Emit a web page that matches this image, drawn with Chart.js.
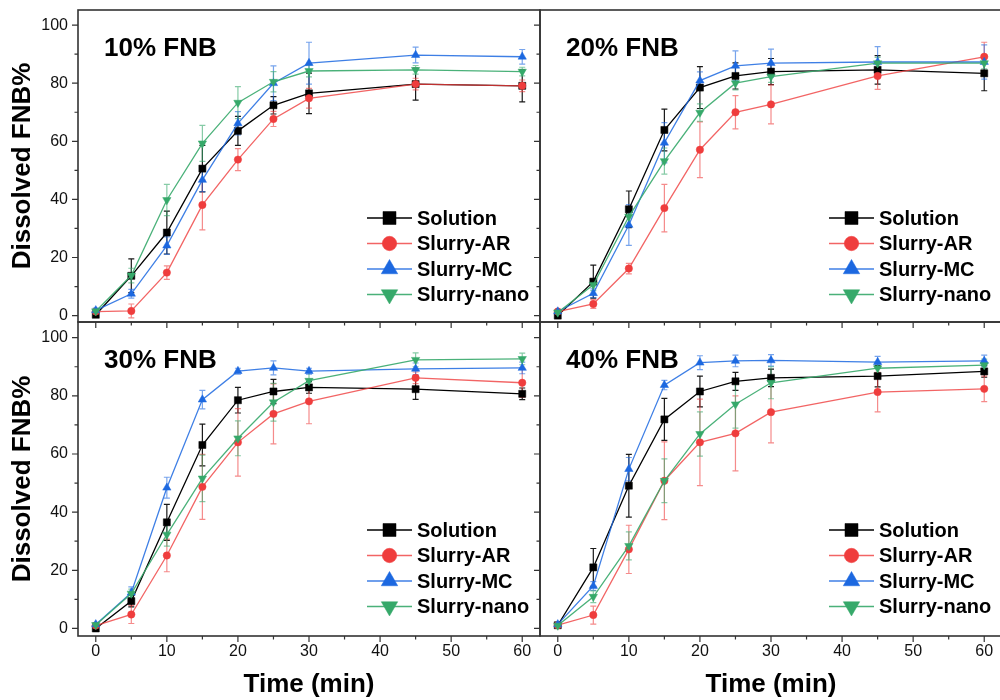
<!DOCTYPE html>
<html>
<head>
<meta charset="utf-8">
<title>FNB dissolution profiles</title>
<script src="https://cdn.jsdelivr.net/npm/chart.js@4.4.1/dist/chart.umd.min.js"></script>
<style>
  html, body { margin: 0; padding: 0; background: #fff; overflow: hidden; }
  #wrap { position: relative; width: 1000px; height: 700px; overflow: hidden; }
  #wrap canvas { position: absolute; left: 0; top: 0; }
</style>
</head>
<body>
<div id="wrap">
  <canvas id="c10" width="1004" height="700"></canvas>
  <canvas id="c20" width="1004" height="700"></canvas>
  <canvas id="c30" width="1004" height="700"></canvas>
  <canvas id="c40" width="1004" height="700"></canvas>
</div>
<script>
// Sampling times (min) and axis ticks
const times = [0, 5, 10, 15, 20, 25, 30, 45, 60];
const xTicks = [0, 10, 20, 30, 40, 50, 60];
const xMinor = [5, 15, 25, 35, 45, 55];
const yTicks = [0, 20, 40, 60, 80, 100];
const yMinor = [10, 30, 50, 70, 90];
const seriesNames = ['Solution', 'Slurry-AR', 'Slurry-MC', 'Slurry-nano'];

// 10% FNB
const sol10 = [0.3, 13.7, 28.6, 50.6, 63.6, 72.4, 76.5, 79.7, 79.1];
const sol10Err = [0.5, 5.8, 7.4, 8, 5, 3, 7, 5.5, 5.5];
const ar10 = [1.4, 1.6, 14.8, 38.1, 53.7, 67.7, 74.8, 79.7, 79.1];
const ar10Err = [0.5, 2.4, 2.3, 8.6, 3.8, 2.6, 3.4, 2, 2];
const mc10 = [1.8, 7.5, 24.1, 46.7, 66.2, 80, 86.9, 89.7, 89.1];
const mc10Err = [0.8, 1.5, 3, 4, 4, 6, 7.2, 2.7, 2.5];
const nano10 = [1.5, 13.8, 39.8, 59.3, 73.3, 80.5, 84.2, 84.6, 84];
const nano10Err = [0.5, 2.5, 5.4, 6.2, 5.5, 3.5, 2, 1.5, 1.5];

// 20% FNB
const sol20 = [0, 11.7, 36.6, 63.9, 78.5, 82.5, 84, 84.6, 83.4];
const sol20Err = [0.5, 5.7, 6.3, 7.2, 7.2, 4.5, 4.5, 4.9, 6];
const ar20 = [1.4, 4, 16.2, 37, 57.1, 70, 72.7, 82.5, 89.1];
const ar20Err = [0.5, 1.5, 1.8, 8.2, 9.6, 5.7, 6.7, 4.6, 5];
const mc20 = [1.4, 7.7, 31.2, 59.5, 80.9, 86, 86.9, 87.3, 87.3];
const mc20Err = [0.5, 1.5, 7, 6.9, 3, 5.1, 4.8, 5.3, 5.9];
const nano20 = [1.1, 10.6, 34.1, 53.2, 69.9, 80, 82.3, 86.9, 86.9];
const nano20Err = [0.5, 2, 3, 4.5, 3, 2.3, 2, 2, 2];

// 30% FNB
const sol30 = [0, 9.4, 36.5, 63.1, 78.5, 81.5, 82.9, 82.3, 80.7];
const sol30Err = [0.5, 2, 6.2, 7.2, 4.4, 4.2, 2, 3.5, 2];
const ar30 = [1, 4.8, 25.1, 48.7, 64, 73.8, 78.1, 86.2, 84.5];
const ar30Err = [0.5, 3.1, 5.6, 11.2, 11.6, 10.3, 7.7, 2, 5];
const mc30 = [1.4, 12.3, 48.4, 78.7, 88.5, 89.6, 88.5, 89.3, 89.6];
const mc30Err = [0.5, 2, 3.6, 3.2, 1, 2.4, 1, 2, 2];
const nano30 = [1.2, 12, 32.3, 51.6, 65.4, 77.8, 85.2, 92.4, 92.7];
const nano30Err = [0.5, 1.5, 4, 8, 6, 6.5, 3, 2.4, 2];

// 40% FNB
const sol40 = [1.1, 21, 49.1, 71.9, 81.5, 85, 86.2, 86.8, 88.4];
const sol40Err = [0.5, 6.5, 10.8, 7.2, 5.3, 3.1, 3, 3.7, 2];
const ar40 = [1.1, 4.6, 27.2, 50.8, 64, 67.1, 74.4, 81.3, 82.4];
const ar40Err = [0.5, 3.1, 8.3, 13.4, 14.9, 12.9, 10.6, 6.8, 4.4];
const mc40 = [1.4, 14.6, 54.8, 83.7, 91.4, 92, 92.2, 91.6, 92];
const mc40Err = [0.5, 1.5, 4, 1.6, 2.4, 2, 2, 2, 2];
const nano40 = [1, 10.9, 28.4, 50.8, 66.9, 77.1, 84.5, 89.5, 90.6];
const nano40Err = [0.5, 2, 4.8, 7.5, 7.6, 8.2, 5.5, 2, 2];

const FONT = "'Liberation Sans', Arial, sans-serif";
Chart.defaults.font.family = FONT;
Chart.defaults.color = '#000';

// Marker / line styles per series
const styles = [
  { color: '#000000', line: '#000000', err: 'rgba(0,0,0,0.9)', pointStyle: 'rect', radius: 5, rotation: 0, legendRadius: 9.2 },
  { color: '#ef3d3d', line: 'rgba(239,61,61,0.8)', err: 'rgba(239,61,61,0.6)', pointStyle: 'circle', radius: 3.7, rotation: 0, legendRadius: 7.2 },
  { color: '#1c68e0', line: 'rgba(28,104,224,0.85)', err: 'rgba(28,104,224,0.6)', pointStyle: 'triangle', radius: 4.8, rotation: 0, legendRadius: 9.5 },
  { color: '#36a96a', line: 'rgba(54,169,106,0.9)', err: 'rgba(54,169,106,0.6)', pointStyle: 'triangle', radius: 4.8, rotation: 180, legendRadius: 9.5 },
];

// Error bars (drawn under the markers)
const errorBars = {
  id: 'errorBars',
  beforeDatasetsDraw(chart) {
    const { ctx, scales: { x, y } } = chart;
    chart.data.datasets.forEach(ds => {
      ctx.save();
      ctx.strokeStyle = ds.errColor;
      ctx.lineWidth = 1.2;
      ctx.beginPath();
      ds.data.forEach((pt, i) => {
        const e = ds.errors[i];
        const px = x.getPixelForValue(pt.x);
        const yTop = y.getPixelForValue(pt.y + e);
        const yBot = y.getPixelForValue(pt.y - e);
        ctx.moveTo(px, yTop); ctx.lineTo(px, yBot);
        ctx.moveTo(px - 3, yTop); ctx.lineTo(px + 3, yTop);
        ctx.moveTo(px - 3, yBot); ctx.lineTo(px + 3, yBot);
      });
      ctx.stroke();
      ctx.restore();
    });
  }
};

// Box frame with outward major/minor ticks
const frameTicks = {
  id: 'frameTicks',
  afterDatasetsDraw(chart) {
    const { ctx, chartArea: a, scales: { x, y } } = chart;
    ctx.save();
    ctx.strokeStyle = '#333';
    ctx.lineWidth = 1.6;
    ctx.strokeRect(a.left, a.top, a.right - a.left, a.bottom - a.top);
    ctx.lineWidth = 1.2;
    ctx.beginPath();
    xTicks.forEach(v => { const px = x.getPixelForValue(v); ctx.moveTo(px, a.bottom); ctx.lineTo(px, a.bottom + 6); });
    xMinor.forEach(v => { const px = x.getPixelForValue(v); ctx.moveTo(px, a.bottom); ctx.lineTo(px, a.bottom + 3.5); });
    yTicks.forEach(v => { const py = y.getPixelForValue(v); ctx.moveTo(a.left, py); ctx.lineTo(a.left - 6, py); });
    yMinor.forEach(v => { const py = y.getPixelForValue(v); ctx.moveTo(a.left, py); ctx.lineTo(a.left - 3.5, py); });
    ctx.stroke();
    ctx.restore();
  }
};

// Panel label and in-plot legend
const panelDecor = {
  id: 'panelDecor',
  afterDraw(chart, args, opts) {
    const { ctx, chartArea: a } = chart;
    ctx.save();
    ctx.fillStyle = '#000';
    ctx.textBaseline = 'middle';
    ctx.font = `bold 26px ${FONT}`;
    ctx.fillText(opts.label, a.left + 26, a.top + 38.5);

    ctx.font = `bold 20px ${FONT}`;
    chart.data.datasets.forEach((ds, k) => {
      const y = a.top + 208 + k * 25.5;
      const x0 = a.left + 289;
      ctx.strokeStyle = ds.borderColor;
      ctx.lineWidth = 1.3;
      ctx.beginPath();
      ctx.moveTo(x0, y);
      ctx.lineTo(x0 + 45, y);
      ctx.stroke();
      ctx.fillStyle = ds.pointBackgroundColor;
      ctx.strokeStyle = ds.pointBorderColor;
      ctx.lineWidth = 0.5;
      Chart.helpers.drawPoint(ctx, {
        pointStyle: ds.pointStyle,
        rotation: ds.pointRotation,
        radius: styles[k].legendRadius,
        borderWidth: 0.5
      }, x0 + 22.5, y);
      ctx.fillStyle = '#000';
      ctx.fillText(ds.label, x0 + 50, y + 1);
    });
    ctx.restore();
  }
};

// Keep the chart area exactly where the layout asks for it
const noLabelPadding = s => {
  s.paddingTop = 0;
  s.paddingBottom = 0;
  s.paddingLeft = 0;
  s.paddingRight = 0;
};

const makePanel = (canvasId, label, values, errors, area, showY, showX, yMin, yMax) => {
  const datasets = seriesNames.map((name, k) => ({
    label: name,
    data: times.map((t, i) => ({ x: t, y: values[k][i] })),
    errors: errors[k],
    errColor: styles[k].err,
    borderColor: styles[k].line,
    backgroundColor: styles[k].color,
    pointBackgroundColor: styles[k].color,
    pointBorderColor: styles[k].color,
    pointStyle: styles[k].pointStyle,
    pointRotation: styles[k].rotation,
    pointRadius: styles[k].radius,
    pointBorderWidth: 0.5,
    borderWidth: 1.3,
    tension: 0,
    order: 3 - k
  }));

  const yWidth = showY ? area.l : 10;
  const xHeight = showX ? 700 - area.b : 10;

  new Chart(document.getElementById(canvasId), {
    type: 'line',
    data: { datasets },
    options: {
      responsive: false,
      animation: false,
      events: [],
      layout: {
        autoPadding: false,
        padding: {
          left: area.l - yWidth,
          right: 1004 - area.r,
          top: area.t,
          bottom: 700 - area.b - xHeight
        }
      },
      plugins: {
        legend: { display: false },
        tooltip: { enabled: false },
        panelDecor: { label }
      },
      scales: {
        x: {
          type: 'linear',
          min: -2.5,
          max: 62.5,
          afterBuildTicks: s => { s.ticks = xTicks.map(v => ({ value: v })); },
          afterFit: s => { s.height = xHeight; noLabelPadding(s); },
          grid: { display: false, drawTicks: false },
          border: { display: false },
          ticks: { display: showX, padding: 6, font: { size: 16 }, color: '#111' },
          title: { display: showX, text: 'Time (min)', font: { size: 26, weight: 'bold' }, color: '#000', padding: 0 }
        },
        y: {
          type: 'linear',
          min: yMin,
          max: yMax,
          afterBuildTicks: s => { s.ticks = yTicks.map(v => ({ value: v })); },
          afterFit: s => { s.width = yWidth; noLabelPadding(s); },
          grid: { display: false, drawTicks: false },
          border: { display: false },
          ticks: { display: showY, padding: 10, font: { size: 16 }, color: '#111' },
          title: { display: showY, text: 'Dissolved FNB%', font: { size: 26, weight: 'bold' }, color: '#000', padding: { top: 7, bottom: 0 } }
        }
      }
    },
    plugins: [errorBars, frameTicks, panelDecor]
  });
};

document.addEventListener('DOMContentLoaded', () => {
  makePanel('c10', '10% FNB', [sol10, ar10, mc10, nano10], [sol10Err, ar10Err, mc10Err, nano10Err],
    { l: 78, t: 10, r: 540, b: 322 }, true, false, -2.2, 105.2);
  makePanel('c20', '20% FNB', [sol20, ar20, mc20, nano20], [sol20Err, ar20Err, mc20Err, nano20Err],
    { l: 540, t: 10, r: 1002, b: 322 }, false, false, -2.2, 105.2);
  makePanel('c30', '30% FNB', [sol30, ar30, mc30, nano30], [sol30Err, ar30Err, mc30Err, nano30Err],
    { l: 78, t: 322, r: 540, b: 636 }, true, true, -2.6, 105.4);
  makePanel('c40', '40% FNB', [sol40, ar40, mc40, nano40], [sol40Err, ar40Err, mc40Err, nano40Err],
    { l: 540, t: 322, r: 1002, b: 636 }, false, true, -2.6, 105.4);
});
</script>
</body>
</html>
